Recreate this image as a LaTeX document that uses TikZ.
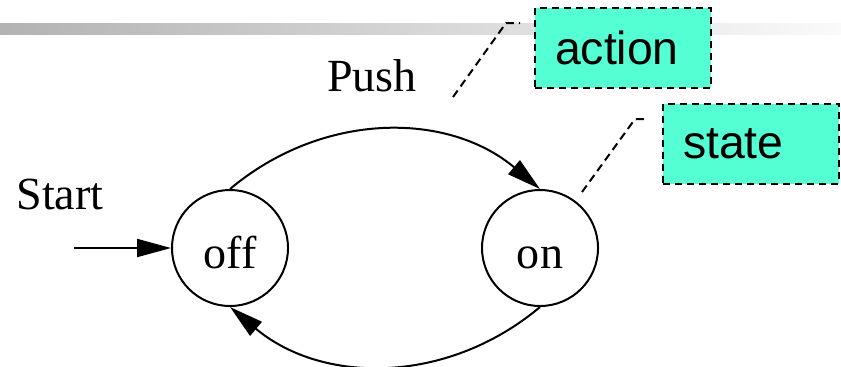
\documentclass[tikz,border=0pt]{standalone}
\usepackage{fontspec}
\setmainfont{Liberation Serif}
\newfontfamily\calloutfont{Liberation Sans}
\usepackage{tikz}
\usetikzlibrary{arrows.meta,calc}
\definecolor{calloutgreen}{RGB}{85,255,212}

\begin{document}
\begin{tikzpicture}[
  statenode/.style={circle,draw,line width=0.02cm,minimum size=1.16cm,inner sep=0pt,
    text height=0.4cm,text depth=0pt,font=\fontsize{13.1}{15}\selectfont},
  trans/.style={line width=0.02cm,-{Triangle[length=0.34cm,width=0.18cm]}},
  plainlabel/.style={font=\fontsize{13.1}{15}\selectfont},
  notebox/.style={draw,line width=0.02cm,dash pattern=on 0.07cm off 0.05cm,fill=calloutgreen,
    minimum height=0.8cm,text width=1.36cm,inner xsep=0.2cm,inner ysep=0pt,align=left,
    font=\calloutfont\fontsize{13.2}{15}\selectfont},
  leader/.style={line width=0.02cm,dash pattern=on 0.08cm off 0.05cm}
]
\useasboundingbox (0,0) rectangle (8.41,3.66);
% title bar
\shade[left color=black!30,right color=black!2] (0,3.32) rectangle (8.41,3.43);

% states
\node[statenode] (off) at (2.30,1.18) {off};
\node[statenode] (on) at (5.40,1.18) {on};

% start arrow
\coordinate (startpt) at (0.74,1.18);
\node[plainlabel] (startlabel) at (0.60,1.715) {Start};
\draw[trans] (startpt) -- (off);

% transitions
\draw[trans] (off.north) to[out=40,in=140] (on.north);
\draw[trans] (on.south) to[out=-140,in=-40] (off.south);
\node[plainlabel] (push) at (3.72,2.90) {Push};

% callouts
\node[notebox] (action) at (6.23,3.18) {action};
\node[notebox] (statebox) at (7.51,2.225) {state};
\coordinate (actiontip) at (4.53,2.69);
\coordinate (actionknee) at (5.06,3.43);
\draw[leader] (actiontip) -- (actionknee) -- ([xshift=-0.14cm]action.west |- actionknee);
\coordinate (statetip) at (5.82,1.74);
\coordinate (stateknee) at (6.35,2.47);
\draw[leader] (statetip) -- (stateknee) -- ([xshift=-0.15cm]statebox.west |- stateknee);
\end{tikzpicture}
\end{document}
